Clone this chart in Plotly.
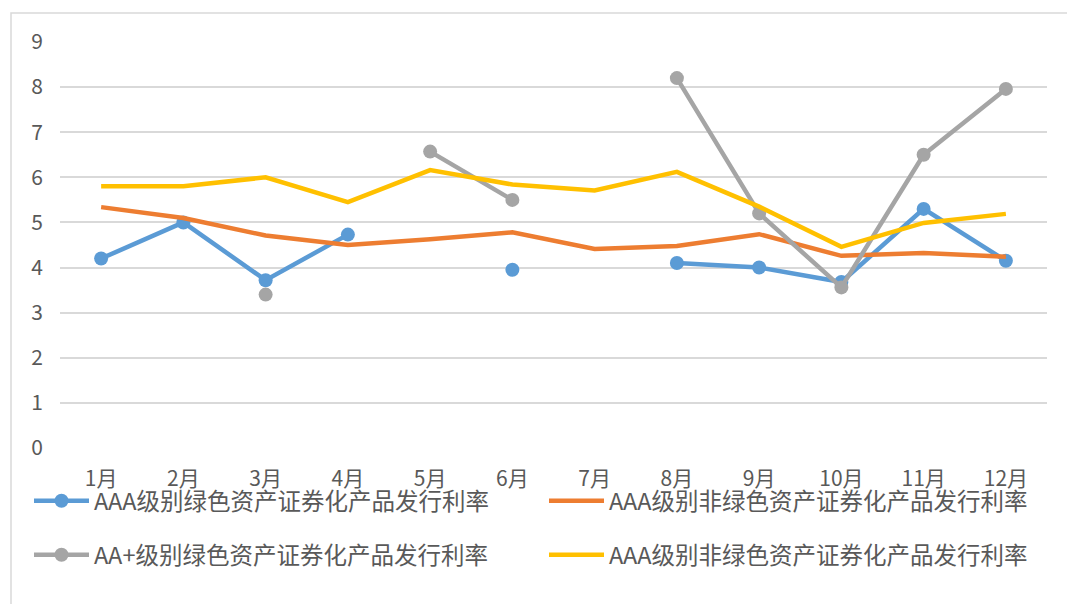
import plotly.graph_objects as go

months = ["1月", "2月", "3月", "4月", "5月", "6月", "7月", "8月", "9月", "10月", "11月", "12月"]
aaa_green = [4.2, 5.0, 3.72, 4.73, None, 3.95, None, 4.1, 4.0, 3.68, 5.3, 4.15]
aaa_nongreen = [5.34, 5.1, 4.71, 4.5, 4.63, 4.78, 4.41, 4.48, 4.74, 4.26, 4.32, 4.24]
aa_plus_green = [None, None, 3.4, None, 6.57, 5.5, None, 8.2, 5.2, 3.56, 6.5, 7.96]
aaa_nongreen2 = [5.8, 5.8, 6.0, 5.45, 6.16, 5.84, 5.71, 6.12, 5.35, 4.46, 4.99, 5.19]

names = ["AAA级别绿色资产证券化产品发行利率", "AAA级别非绿色资产证券化产品发行利率",
         "AA+级别绿色资产证券化产品发行利率", "AAA级别非绿色资产证券化产品发行利率"]
colors = ["#5B9BD5", "#ED7D31", "#A5A5A5", "#FFC000"]

FONT = "Noto Sans CJK SC"
W, H = 1067, 604
L, R, T, B = 60, 20, 42, 156

fig = go.Figure()
fig.add_trace(go.Scatter(x=months, y=aaa_green, name=names[0], mode="lines+markers",
                         line=dict(color=colors[0], width=4.5), marker=dict(size=14, color=colors[0]),
                         connectgaps=False, legend="legend"))
fig.add_trace(go.Scatter(x=months, y=aaa_nongreen, name=names[1], mode="lines",
                         line=dict(color=colors[1], width=4.5), legend="legend2"))
fig.add_trace(go.Scatter(x=months, y=aa_plus_green, name=names[2], mode="lines+markers",
                         line=dict(color=colors[2], width=4.5), marker=dict(size=14, color=colors[2]),
                         connectgaps=False, legend="legend3"))
fig.add_trace(go.Scatter(x=months, y=aaa_nongreen2, name=names[3], mode="lines",
                         line=dict(color=colors[3], width=4.5), legend="legend4"))

pw = W - L - R
ph = H - T - B
def px_x(p):
    return (p - L) / pw
def px_y(p):
    return (H - B - p) / ph

legend_common = dict(orientation="h", xanchor="left", yanchor="middle",
                     font=dict(family=FONT, size=23.5, color="#595959"),
                     bgcolor="rgba(0,0,0,0)", itemwidth=55)

fig.update_layout(
    width=W, height=H,
    margin=dict(l=L, r=R, t=T, b=B, autoexpand=False),
    paper_bgcolor="white", plot_bgcolor="white",
    font=dict(family=FONT, size=20, color="#595959"),
    showlegend=True,
    legend=dict(x=px_x(29), y=px_y(501), **legend_common),
    legend2=dict(x=px_x(544), y=px_y(501), **legend_common),
    legend3=dict(x=px_x(29), y=px_y(555), **legend_common),
    legend4=dict(x=px_x(544), y=px_y(555), **legend_common),
    xaxis=dict(type="category", range=[-0.5, 11.5], showgrid=False, showline=False, zeroline=False,
               ticks="outside", ticklen=12, tickcolor="rgba(0,0,0,0)",
               tickfont=dict(family=FONT, size=21, color="#595959")),
    yaxis=dict(range=[0, 9], dtick=1, showgrid=True, gridcolor="#D9D9D9", gridwidth=1.5,
               zeroline=False, showline=False, ticks="outside", ticklen=12,
               tickcolor="rgba(0,0,0,0)",
               tickfont=dict(family=FONT, size=21, color="#595959")),
    shapes=[dict(type="rect", xref="paper", yref="paper",
                 x0=px_x(11), x1=px_x(1100), y0=px_y(700), y1=px_y(13),
                 line=dict(color="#D9D9D9", width=1.5), fillcolor="rgba(0,0,0,0)", layer="below")],
)

fig.write_html("out.html", config={"displayModeBar": False},
               post_script="document.body.style.margin='0';")
